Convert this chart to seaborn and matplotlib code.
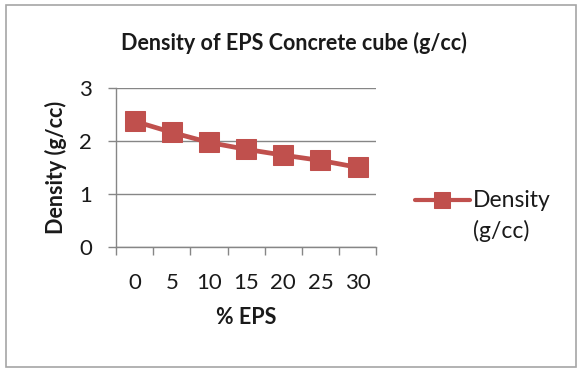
import matplotlib
matplotlib.use("Agg")
import matplotlib.pyplot as plt
from matplotlib.patches import Rectangle
import seaborn as sns
import pandas as pd
import numpy as np

eps_percent = ["0", "5", "10", "15", "20", "25", "30"]
density = [2.37, 2.16, 1.97, 1.84, 1.73, 1.63, 1.50]
y_ticks = [0, 1, 2, 3]

sns.set_style("white")
plt.rcParams["font.family"] = ["Lato", "DejaVu Sans"]

red = "#C0504D"
grey = "#868686"
ink = "#1a1a1a"

df = pd.DataFrame({"pos": range(len(eps_percent)), "density": density})

fig = plt.figure(figsize=(5.77, 3.69), dpi=100)
ax = fig.add_axes([0.201, 0.331, 0.451, 0.431])

sns.lineplot(data=df, x="pos", y="density", ax=ax, color=red, linewidth=3.4,
             marker="s", markersize=15, markeredgecolor=red,
             label="Density\n(g/cc)", legend=False)

ax.set_xlim(-0.5, len(eps_percent) - 0.5)
ax.set_ylim(0, 3)
ax.set_yticks(y_ticks)
ax.set_yticklabels([str(t) for t in y_ticks])
ax.yaxis.grid(True, color=grey, linewidth=1)
ax.set_axisbelow(True)

# category labels at centres, tick marks at the boundaries between categories
ax.set_xticks(range(len(eps_percent)))
ax.set_xticklabels(eps_percent)
ax.set_xticks([i - 0.5 for i in range(len(eps_percent) + 1)], minor=True)
ax.tick_params(axis="x", which="major", length=0, pad=19, labelsize=16, colors=ink)
ax.tick_params(axis="x", which="minor", length=6, width=1, color=grey, direction="out")
ax.tick_params(axis="y", which="major", length=6, width=1, color=grey, direction="out",
               labelsize=16, labelcolor=ink, pad=11)
ax.tick_params(axis="both", bottom=True, left=True)
ax.xaxis.set_tick_params(which="minor", bottom=True)

for side in ["top", "right"]:
    ax.spines[side].set_visible(False)
for side in ["left", "bottom"]:
    ax.spines[side].set_color(grey)
    ax.spines[side].set_linewidth(1)

ax.set_xlabel("% EPS", fontsize=15.5, fontweight="bold", labelpad=10, color=ink)
ax.set_ylabel("Density (g/cc)", fontsize=15.5, fontweight="bold", labelpad=9, color=ink)

fig.text(0.510, 0.883, "Density of EPS Concrete cube (g/cc)", ha="center", va="center",
         fontsize=15.5, fontweight="bold", color=ink)

handles, labels = ax.get_legend_handles_labels()
leg = fig.legend(handles, labels, loc="center left", bbox_to_anchor=(0.719, 0.415),
                 frameon=False, fontsize=16.5, handlelength=2.4, handletextpad=0.15,
                 labelcolor=ink, labelspacing=0.35, borderpad=0, borderaxespad=0)
for t in leg.get_texts():
    t.set_linespacing(1.5)
# keep the legend key level with the first line of its two-line label
for h in leg.legend_handles:
    h.set_markersize(11.5)
    h.set_linewidth(3.0)
    h.set_ydata(np.asarray(h.get_ydata()) + 11.5)

fig.patches.append(Rectangle((0.010, 0.005), 0.988, 0.981, transform=fig.transFigure,
                             fill=False, edgecolor="#a6a6a6", linewidth=1.2))

fig.savefig("out.png", dpi=100)
